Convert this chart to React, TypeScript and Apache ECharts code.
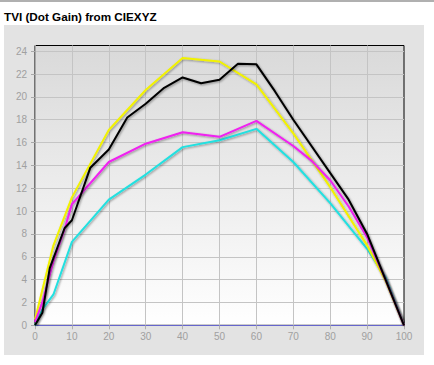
import React, { useEffect, useRef } from "react";
import * as echarts from "echarts";

const titleText = "TVI (Dot Gain) from CIEXYZ";

const cyanX = [0, 2, 5, 10, 20, 30, 40, 50, 60, 70, 80, 90, 95, 100];
const cyanY = [0, 1.4, 2.7, 7.3, 11.0, 13.2, 15.6, 16.2, 17.2, 14.3, 10.7, 6.7, 4.2, 0];

const yellowX = [0, 5, 10, 20, 30, 40, 50, 60, 70, 80, 90, 95, 100];
const yellowY = [0.5, 7.0, 11.2, 17.1, 20.6, 23.4, 23.1, 21.1, 16.8, 12.1, 7.0, 3.9, 0];

const magentaX = [0, 2, 5, 8, 10, 20, 30, 40, 50, 60, 70, 75, 80, 85, 90, 95, 100];
const magentaY = [0.3, 2.0, 5.6, 8.4, 10.6, 14.3, 15.9, 16.9, 16.5, 17.9, 15.7, 14.4, 12.7, 10.4, 7.7, 4.0, 0];

const blackX = [0, 2, 4, 8, 10, 15, 20, 25, 30, 35, 40, 45, 50, 55, 60, 65, 70, 85, 90, 95, 100];
const blackY = [0, 1.1, 5.0, 8.5, 9.2, 13.8, 15.4, 18.2, 19.4, 20.8, 21.7, 21.2, 21.5, 22.9, 22.85, 20.5, 18.0, 11.0, 8.0, 4.0, 0];

const xTicks = [0, 10, 20, 30, 40, 50, 60, 70, 80, 90, 100];

const pairs = (xs: number[], ys: number[]) => xs.map((x, i) => [x, ys[i]]);

export default function App() {
  const ref = useRef<HTMLDivElement>(null);
  useEffect(() => {
    if (!ref.current) return;
    const chart = echarts.init(ref.current, null, { renderer: "svg" });
    const lineSeries = (name: string, color: string, data: number[][]) => ({
      name,
      type: "line",
      data,
      symbol: "none",
      lineStyle: {
        color,
        width: 2,
        shadowColor: "rgba(0,0,0,0.4)",
        shadowBlur: 2,
        shadowOffsetX: 1,
        shadowOffsetY: 1,
      },
    });
    chart.setOption({
      animation: false,
      backgroundColor: "#ffffff",
      graphic: [
        { type: "rect", shape: { x: 0, y: 0, width: 434, height: 2 }, style: { fill: "#b0b0b0" }, z: -10 },
        { type: "rect", shape: { x: 4, y: 25, width: 420, height: 330 }, style: { fill: "#e3e3e3" }, z: -10 },
        {
          type: "text",
          x: 4,
          y: 16,
          style: {
            text: titleText,
            font: "bold 11.7px 'Liberation Sans', Arial, sans-serif",
            fill: "#000",
            verticalAlign: "middle",
          },
        },
      ],
      grid: {
        left: 35,
        right: 30,
        top: 45.5,
        bottom: 39.7,
        show: true,
        borderColor: "#000",
        borderWidth: 1,
        backgroundColor: new echarts.graphic.LinearGradient(0, 0, 0, 1, [
          { offset: 0, color: "#d9d9d9" },
          { offset: 1, color: "#ffffff" },
        ]),
      },
      xAxis: {
        type: "value",
        min: 0,
        max: 100,
        interval: 10,
        axisLine: { lineStyle: { color: "#6666cc", width: 1 } },
        axisTick: { show: true, length: 4, lineStyle: { color: "#b0b0b0" } },
        axisLabel: {
          color: "#a0a0a0",
          fontSize: 10,
          fontFamily: "'Liberation Sans', Arial, sans-serif",
          margin: 6,
          formatter: (v: number) => (xTicks.includes(v) ? String(v) : ""),
        },
        splitLine: { show: true, showMinLine: false, showMaxLine: false, lineStyle: { color: "#c4c4c4", width: 1 } },
      },
      yAxis: {
        type: "value",
        min: 0,
        max: 24.5,
        interval: 2,
        axisLine: { show: true, lineStyle: { color: "#a8a8a8", width: 1 } },
        axisTick: { show: true, length: 4, lineStyle: { color: "#a8a8a8" } },
        axisLabel: {
          color: "#a0a0a0",
          fontSize: 10,
          fontFamily: "'Liberation Sans', Arial, sans-serif",
          margin: 8,
          showMaxLabel: false,
          formatter: (v: number) => (v % 2 === 0 ? String(v) : ""),
        },
        splitLine: { show: true, showMinLine: false, showMaxLine: false, lineStyle: { color: "#c4c4c4", width: 1 } },
      },
      series: [
        lineSeries("Cyan", "#22e0e0", pairs(cyanX, cyanY)),
        lineSeries("Yellow", "#f2f200", pairs(yellowX, yellowY)),
        lineSeries("Magenta", "#f020f0", pairs(magentaX, magentaY)),
        lineSeries("Black", "#000000", pairs(blackX, blackY)),
      ],
    });
    return () => chart.dispose();
  }, []);
  return <div ref={ref} style={{ width: 434, height: 365, position: "absolute", left: 0, top: 0 }} />;
}
